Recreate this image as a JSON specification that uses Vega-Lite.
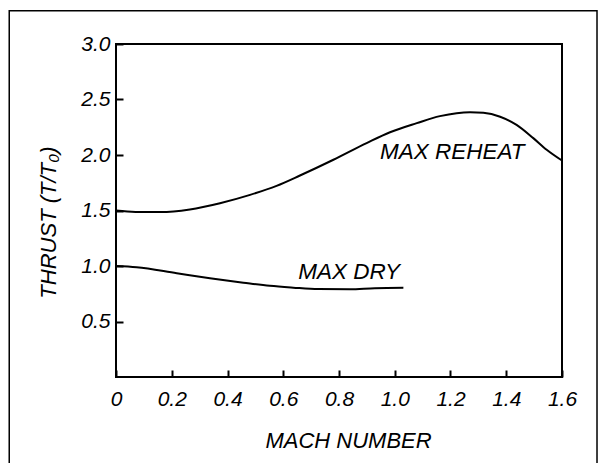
{
  "$schema": "https://vega.github.io/schema/vega-lite/v6.json",
  "width": 446,
  "height": 333,
  "autosize": {"type": "none"},
  "padding": {"left": 116, "top": 44, "right": 44, "bottom": 86},
  "background": "white",
  "config": {
    "view": {"stroke": "black", "strokeWidth": 2},
    "font": "Liberation Sans",
    "axis": {
      "grid": false,
      "domain": false,
      "offset": -7,
      "tickColor": "black",
      "tickWidth": 2,
      "tickSize": 7,
      "labelFlush": false,
      "labelOverlap": false,
      "labelFont": "Liberation Sans",
      "labelFontStyle": "italic",
      "labelFontSize": 21,
      "labelColor": "black",
      "titleFont": "Liberation Sans",
      "titleFontStyle": "italic",
      "titleFontWeight": "normal",
      "titleFontSize": 22,
      "titleColor": "black"
    }
  },
  "datasets": {
    "curves": [
      {"series": "MAX REHEAT", "mach": 0.0, "thrust": 1.5},
      {"series": "MAX REHEAT", "mach": 0.07, "thrust": 1.487},
      {"series": "MAX REHEAT", "mach": 0.16, "thrust": 1.486},
      {"series": "MAX REHEAT", "mach": 0.265, "thrust": 1.51},
      {"series": "MAX REHEAT", "mach": 0.373, "thrust": 1.566},
      {"series": "MAX REHEAT", "mach": 0.481, "thrust": 1.641},
      {"series": "MAX REHEAT", "mach": 0.576, "thrust": 1.722},
      {"series": "MAX REHEAT", "mach": 0.66, "thrust": 1.815},
      {"series": "MAX REHEAT", "mach": 0.78, "thrust": 1.957},
      {"series": "MAX REHEAT", "mach": 0.899, "thrust": 2.107},
      {"series": "MAX REHEAT", "mach": 0.983, "thrust": 2.205},
      {"series": "MAX REHEAT", "mach": 1.079, "thrust": 2.287},
      {"series": "MAX REHEAT", "mach": 1.162, "thrust": 2.35},
      {"series": "MAX REHEAT", "mach": 1.222, "thrust": 2.377},
      {"series": "MAX REHEAT", "mach": 1.27, "thrust": 2.385},
      {"series": "MAX REHEAT", "mach": 1.318, "thrust": 2.38},
      {"series": "MAX REHEAT", "mach": 1.378, "thrust": 2.345},
      {"series": "MAX REHEAT", "mach": 1.437, "thrust": 2.272},
      {"series": "MAX REHEAT", "mach": 1.497, "thrust": 2.152},
      {"series": "MAX REHEAT", "mach": 1.545, "thrust": 2.047},
      {"series": "MAX REHEAT", "mach": 1.6, "thrust": 1.95},
      {"series": "MAX DRY", "mach": 0.0, "thrust": 1.0},
      {"series": "MAX DRY", "mach": 0.074, "thrust": 0.989},
      {"series": "MAX DRY", "mach": 0.218, "thrust": 0.935},
      {"series": "MAX DRY", "mach": 0.337, "thrust": 0.89},
      {"series": "MAX DRY", "mach": 0.457, "thrust": 0.85},
      {"series": "MAX DRY", "mach": 0.552, "thrust": 0.821},
      {"series": "MAX DRY", "mach": 0.636, "thrust": 0.805},
      {"series": "MAX DRY", "mach": 0.726, "thrust": 0.792},
      {"series": "MAX DRY", "mach": 0.839, "thrust": 0.79},
      {"series": "MAX DRY", "mach": 0.929, "thrust": 0.8},
      {"series": "MAX DRY", "mach": 1.031, "thrust": 0.803}
    ],
    "labels": [
      {"label": "MAX REHEAT", "mach": 0.947, "thrust": 1.966},
      {"label": "MAX DRY", "mach": 0.654, "thrust": 0.884}
    ]
  },
  "layer": [
    {
      "data": {"name": "curves"},
      "mark": {"type": "line", "color": "black", "strokeWidth": 2, "interpolate": "monotone"},
      "encoding": {
        "x": {
          "field": "mach",
          "type": "quantitative",
          "scale": {"domain": [0, 1.6], "nice": false, "zero": false},
          "axis": {
            "values": [0, 0.2, 0.4, 0.6, 0.8, 1.0, 1.2, 1.4, 1.6],
            "labelExpr": "datum.value == 0 ? '0' : format(datum.value, '.1f')",
            "labelPadding": 11,
            "title": "MACH NUMBER",
            "titleX": 232,
            "titleY": 77,
            "titleBaseline": "alphabetic"
          }
        },
        "y": {
          "field": "thrust",
          "type": "quantitative",
          "scale": {"domain": [0, 3], "nice": false},
          "axis": {
            "values": [0.5, 1.0, 1.5, 2.0, 2.5, 3.0],
            "format": ".1f",
            "labelPadding": 6,
            "title": "THRUST (T/T₀)",
            "titleX": -75,
            "titleY": 178,
            "titleAngle": -90,
            "titleAlign": "center",
            "titleBaseline": "middle"
          }
        },
        "detail": {"field": "series"}
      }
    },
    {
      "data": {"name": "labels"},
      "mark": {"type": "text", "align": "left", "baseline": "alphabetic", "fontSize": 22.5, "fontStyle": "italic", "font": "Liberation Sans", "color": "black"},
      "encoding": {
        "x": {"field": "mach", "type": "quantitative"},
        "y": {"field": "thrust", "type": "quantitative"},
        "text": {"field": "label"}
      }
    },
    {
      "data": {"values": [{}]},
      "mark": {"type": "rect", "fill": "transparent", "stroke": "black", "strokeWidth": 1.5},
      "encoding": {
        "x": {"datum": -0.383, "type": "quantitative"},
        "x2": {"datum": 1.7256},
        "y": {"datum": 3.3, "type": "quantitative"},
        "y2": {"datum": -0.85}
      }
    }
  ]
}
